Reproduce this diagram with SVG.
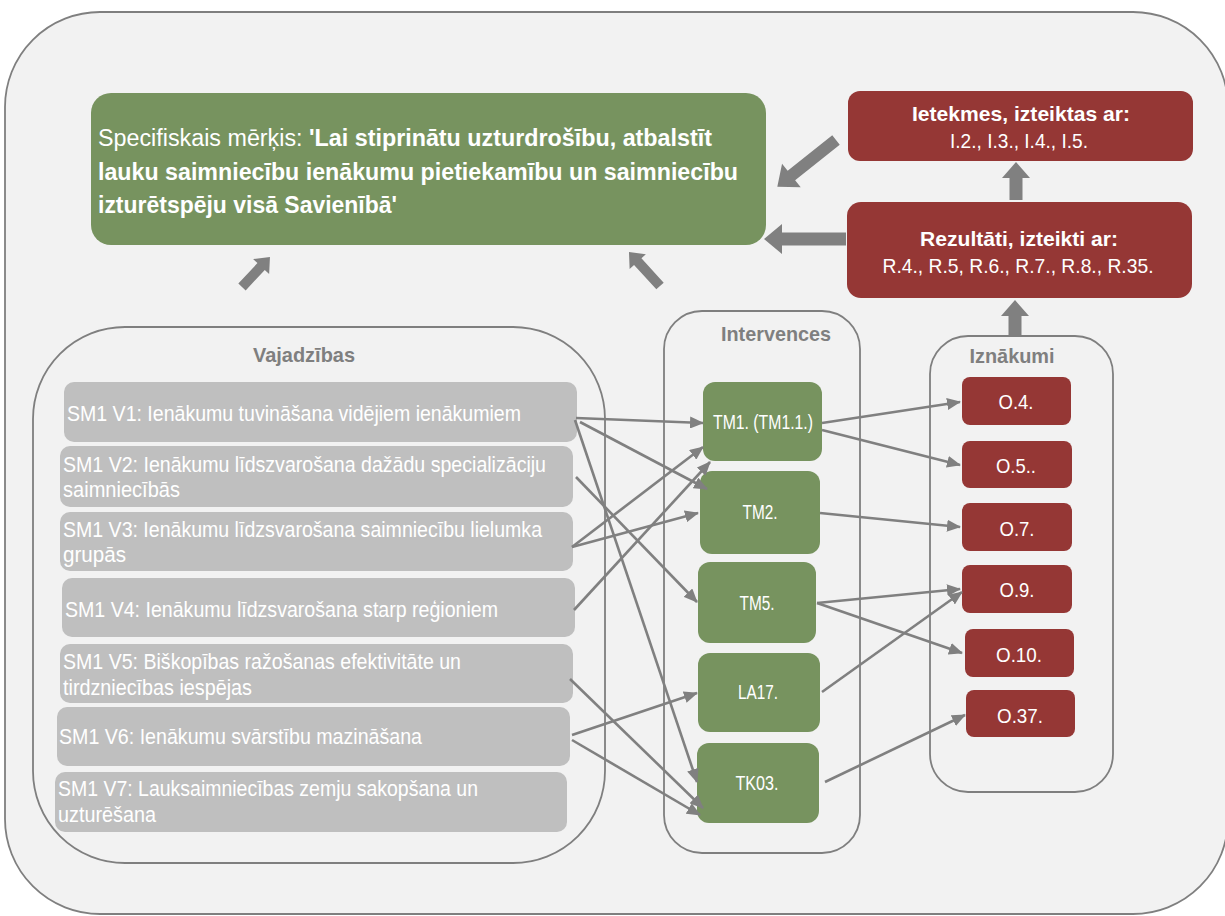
<svg xmlns="http://www.w3.org/2000/svg" width="1225" height="916" viewBox="0 0 1225 916">
<defs>
<style>
.t{font-family:"Liberation Sans",Arial,sans-serif;fill:#fff}
.b{font-weight:bold}
.title{font-family:"Liberation Sans",Arial,sans-serif;font-weight:bold;fill:#7f7f7f;font-size:21px}
.cont{fill:none;stroke:#7f7f7f;stroke-width:1.8}
.need{fill:#bfbfbf}
.green{fill:#77935f}
.red{fill:#953735}
.conn line{stroke:#808080;stroke-width:2.6;marker-end:url(#ah)}
.blk{fill:#808080}
.vt{font-size:22.5px}
.it{font-size:20px}
.ot{font-size:21px}
</style>
<marker id="ah" markerUnits="userSpaceOnUse" markerWidth="14" markerHeight="12" refX="13" refY="6" orient="auto">
<path d="M0,0 L14,6 L0,12 z" fill="#808080"/>
</marker>
</defs>
<rect x="0" y="0" width="1225" height="916" fill="#fff"/>
<rect id="frame" x="5" y="12" width="1223" height="902" rx="95" fill="#f2f2f2" stroke="#7f7f7f" stroke-width="1.8"/>

<g id="goal">
<rect x="91" y="93" width="675" height="152" rx="20" class="green"/>
<text class="t" x="98" y="146" font-size="23" textLength="614" lengthAdjust="spacingAndGlyphs">Specifiskais mērķis: <tspan font-weight="bold">'Lai stiprinātu uzturdrošību, atbalstīt</tspan></text>
<text class="t b" x="98" y="180" font-size="23" textLength="640" lengthAdjust="spacingAndGlyphs">lauku saimniecību ienākumu pietiekamību un saimniecību</text>
<text class="t b" x="98" y="213" font-size="23" textLength="299" lengthAdjust="spacingAndGlyphs">izturētspēju visā Savienībā'</text>
</g>

<g id="impacts">
<rect x="848" y="91" width="345" height="70" rx="12" class="red"/>
<text class="t b" x="1021" y="121" font-size="21" text-anchor="middle" textLength="218" lengthAdjust="spacingAndGlyphs">Ietekmes, izteiktas ar:</text>
<text class="t" x="1019" y="148" font-size="21" text-anchor="middle" textLength="138" lengthAdjust="spacingAndGlyphs">I.2., I.3., I.4., I.5.</text>
</g>

<g id="results">
<rect x="847" y="202" width="345" height="96" rx="14" class="red"/>
<text class="t b" x="1019" y="246" font-size="21" text-anchor="middle" textLength="198" lengthAdjust="spacingAndGlyphs">Rezultāti, izteikti ar:</text>
<text class="t" x="1018" y="273" font-size="21" text-anchor="middle" textLength="271" lengthAdjust="spacingAndGlyphs">R.4., R.5, R.6., R.7., R.8., R.35.</text>
</g>

<g id="block-arrows">
<polygon class="blk" points="0,-6 57,-6 57,-15 75,0 57,15 57,6 0,6" transform="translate(836,140) rotate(141.5)"/>
<polygon class="blk" points="0,-6.5 64,-6.5 64,-15 82,0 64,15 64,6.5 0,6.5" transform="translate(846,239) rotate(180)"/>
<polygon class="blk" points="0,-6.5 22,-6.5 22,-14 38,0 22,14 22,6.5 0,6.5" transform="translate(1016,200) rotate(-90)"/>
<polygon class="blk" points="0,-6.5 20,-6.5 20,-14 36,0 20,14 20,6.5 0,6.5" transform="translate(1015,336) rotate(-90)"/>
<polygon class="blk" points="0,-5 28,-5 28,-11 41,0 28,11 28,5 0,5" transform="translate(242,287) rotate(-47)"/>
<polygon class="blk" points="0,-5 33,-5 33,-11 46,0 33,11 33,5 0,5" transform="translate(660,286) rotate(-132.4)"/>
</g>

<g id="needs-container">
<rect x="33" y="327" width="572" height="536" rx="92" class="cont"/>
<text class="title" x="304" y="362" text-anchor="middle" textLength="102" lengthAdjust="spacingAndGlyphs">Vajadzības</text>
</g>
<g id="interventions-container">
<rect x="664" y="311" width="196" height="542" rx="38" class="cont"/>
<text class="title" x="776" y="341" text-anchor="middle" textLength="110" lengthAdjust="spacingAndGlyphs">Intervences</text>
</g>
<g id="outputs-container">
<rect x="930" y="336" width="183" height="456" rx="38" class="cont"/>
<text class="title" x="1012" y="363" text-anchor="middle" textLength="85" lengthAdjust="spacingAndGlyphs">Iznākumi</text>
</g>

<g id="V1"><rect x="64" y="382" width="513" height="60" rx="10" class="need"/>
<text class="t vt" x="67" y="421" textLength="454" lengthAdjust="spacingAndGlyphs">SM1 V1: Ienākumu tuvināšana vidējiem ienākumiem</text></g>
<g id="V2"><rect x="60" y="446" width="513" height="61" rx="10" class="need"/>
<text class="t vt" x="63" y="472" textLength="483" lengthAdjust="spacingAndGlyphs">SM1 V2: Ienākumu līdszvarošana dažādu specializāciju</text>
<text class="t vt" x="63" y="497" textLength="117" lengthAdjust="spacingAndGlyphs">saimniecībās</text></g>
<g id="V3"><rect x="60" y="512" width="513" height="59" rx="10" class="need"/>
<text class="t vt" x="63" y="537" textLength="479" lengthAdjust="spacingAndGlyphs">SM1 V3: Ienākumu līdzsvarošana saimniecību lielumka</text>
<text class="t vt" x="63" y="562" textLength="63" lengthAdjust="spacingAndGlyphs">grupās</text></g>
<g id="V4"><rect x="62" y="578" width="513" height="59" rx="10" class="need"/>
<text class="t vt" x="65" y="617" textLength="433" lengthAdjust="spacingAndGlyphs">SM1 V4: Ienākumu līdzsvarošana starp reģioniem</text></g>
<g id="V5"><rect x="60" y="644" width="513" height="59" rx="10" class="need"/>
<text class="t vt" x="63" y="669" textLength="398" lengthAdjust="spacingAndGlyphs">SM1 V5: Biškopības ražošanas efektivitāte un</text>
<text class="t vt" x="63" y="695" textLength="189" lengthAdjust="spacingAndGlyphs">tirdzniecības iespējas</text></g>
<g id="V6"><rect x="57" y="707" width="513" height="59" rx="10" class="need"/>
<text class="t vt" x="59" y="744" textLength="363" lengthAdjust="spacingAndGlyphs">SM1 V6: Ienākumu svārstību mazināšana</text></g>
<g id="V7"><rect x="55" y="772" width="512" height="60" rx="10" class="need"/>
<text class="t vt" x="58" y="796" textLength="420" lengthAdjust="spacingAndGlyphs">SM1 V7: Lauksaimniecības zemju sakopšana un</text>
<text class="t vt" x="58" y="822" textLength="98" lengthAdjust="spacingAndGlyphs">uzturēšana</text></g>

<g id="TM1"><rect x="703" y="382" width="119" height="79" rx="12" class="green"/>
<text class="t it" x="763" y="429" text-anchor="middle" textLength="100" lengthAdjust="spacingAndGlyphs">TM1. (TM1.1.)</text></g>
<g id="TM2"><rect x="700" y="471" width="120" height="83" rx="12" class="green"/>
<text class="t it" x="760" y="519" text-anchor="middle" textLength="35" lengthAdjust="spacingAndGlyphs">TM2.</text></g>
<g id="TM5"><rect x="698" y="562" width="118" height="81" rx="12" class="green"/>
<text class="t it" x="757" y="610" text-anchor="middle" textLength="35" lengthAdjust="spacingAndGlyphs">TM5.</text></g>
<g id="LA17"><rect x="698" y="653" width="122" height="79" rx="12" class="green"/>
<text class="t it" x="758" y="699" text-anchor="middle" textLength="40" lengthAdjust="spacingAndGlyphs">LA17.</text></g>
<g id="TK03"><rect x="697" y="743" width="122" height="80" rx="12" class="green"/>
<text class="t it" x="757" y="790" text-anchor="middle" textLength="43" lengthAdjust="spacingAndGlyphs">TK03.</text></g>

<g id="O4"><rect x="962" y="377" width="109" height="48" rx="8" class="red"/>
<text class="t ot" x="1016" y="409" text-anchor="middle" textLength="35" lengthAdjust="spacingAndGlyphs">O.4.</text></g>
<g id="O5"><rect x="962" y="441" width="110" height="47" rx="8" class="red"/>
<text class="t ot" x="1016" y="473" text-anchor="middle" textLength="40" lengthAdjust="spacingAndGlyphs">O.5..</text></g>
<g id="O7"><rect x="962" y="503" width="110" height="48" rx="8" class="red"/>
<text class="t ot" x="1017" y="536" text-anchor="middle" textLength="35" lengthAdjust="spacingAndGlyphs">O.7.</text></g>
<g id="O9"><rect x="962" y="565" width="110" height="48" rx="8" class="red"/>
<text class="t ot" x="1017" y="597" text-anchor="middle" textLength="35" lengthAdjust="spacingAndGlyphs">O.9.</text></g>
<g id="O10"><rect x="965" y="629" width="109" height="48" rx="8" class="red"/>
<text class="t ot" x="1019" y="662" text-anchor="middle" textLength="46" lengthAdjust="spacingAndGlyphs">O.10.</text></g>
<g id="O37"><rect x="966" y="690" width="109" height="47" rx="8" class="red"/>
<text class="t ot" x="1020" y="723" text-anchor="middle" textLength="46" lengthAdjust="spacingAndGlyphs">O.37.</text></g>

<g id="connectors" class="conn">
<line x1="576" y1="418" x2="703" y2="423"/>
<line x1="580" y1="422" x2="707" y2="489"/>
<line x1="575" y1="420" x2="697" y2="782"/>
<line x1="576" y1="477" x2="697" y2="602"/>
<line x1="572" y1="547" x2="703" y2="447"/>
<line x1="572" y1="547" x2="698" y2="513"/>
<line x1="574" y1="610" x2="710" y2="462"/>
<line x1="570" y1="679" x2="703" y2="808"/>
<line x1="572" y1="735" x2="697" y2="693"/>
<line x1="572" y1="740" x2="700" y2="815"/>
<line x1="822" y1="423" x2="960" y2="402"/>
<line x1="822" y1="430" x2="960" y2="465"/>
<line x1="820" y1="513" x2="960" y2="527"/>
<line x1="817" y1="603" x2="960" y2="589"/>
<line x1="817" y1="603" x2="962" y2="653"/>
<line x1="822" y1="692" x2="962" y2="592"/>
<line x1="825" y1="782" x2="965" y2="715"/>
</g>
</svg>
